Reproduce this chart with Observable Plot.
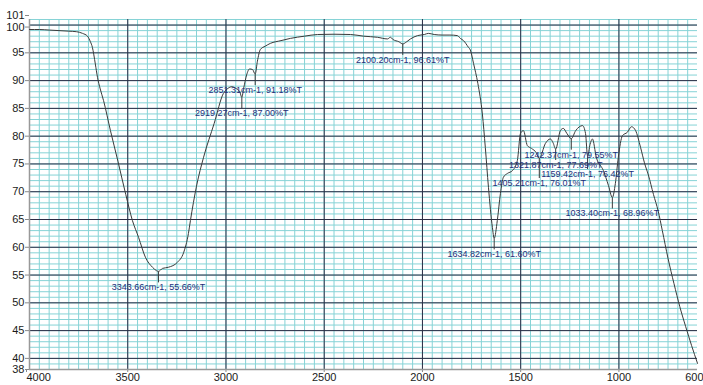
<!DOCTYPE html>
<html><head><meta charset="utf-8">
<script src="https://cdn.jsdelivr.net/npm/d3@7"></script>
<script src="https://cdn.jsdelivr.net/npm/@observablehq/plot@0.6"></script>
<style>body{margin:0;background:#fff}</style>
</head><body><div id="chart"></div>
<script>
// Spectrum (wavenumber cm-1, %T)
const wavenumber = [4000,3950,3900,3850,3800,3760,3730,3705,3690,3680,3665,3654,3640,3623,3588,3550,3510,3476,3445,3410,3374,3354,3343.66,3323,3293,3247,3216,3191,3181,3150,3114,3060,3013,2990,2970,2950,2930,2919.27,2910,2895,2880,2865,2851.31,2840,2825,2800,2774,2720,2672,2600,2534,2450,2366,2300,2229,2178,2163,2150,2120,2100.20,2080,2061,2025,1990,1970,1940,1900,1860,1822,1807,1791,1766,1756,1740,1718,1695,1680,1664,1644,1634.82,1619,1603,1588,1567,1542,1517,1501,1486,1466,1445,1420,1405.21,1374,1349,1335,1321.87,1298,1283,1265,1242.37,1220,1185,1170,1159.42,1147,1135,1115,1079,1053,1033.40,1018,1003,982,957,936,915,890,870,850,824,800,779,750,720,690,660,630,600];
const transmittance = [99.2,99.2,99.1,99.0,98.9,98.8,98.5,98.0,97.0,96.0,93.0,90.6,88.5,86.4,81.0,75.5,69.5,64.8,61.8,58.2,56.4,55.8,55.66,56.2,56.4,57.3,59.0,62.5,64.8,71.0,76.2,82.3,87.7,88.6,88.9,88.6,88.0,87.0,88.6,91.0,92.1,92.0,91.18,93.5,95.6,96.2,96.7,97.2,97.6,98.0,98.3,98.35,98.3,98.0,97.8,97.5,97.8,97.4,97.0,96.61,97.0,97.5,98.1,98.3,98.5,98.3,98.2,98.2,98.1,97.6,97.2,96.0,95.5,93.1,89.5,84.0,78.0,70.8,63.6,61.6,64.8,69.7,72.6,73.3,73.8,75.6,80.5,81.0,78.3,77.8,77.0,76.01,78.7,79.5,78.8,77.69,81.0,81.4,80.5,79.55,81.0,81.9,80.5,76.42,78.5,79.5,76.2,73.8,71.1,68.96,71.5,76.2,80.1,80.7,81.7,81.0,78.0,75.2,73.0,69.5,66.5,63.0,58.0,53.5,49.3,45.7,42.3,39.1];

// Peak picks
const peakWavenumber = [3343.66,2919.27,2851.31,2100.20,1634.82,1405.21,1321.87,1242.37,1159.42,1033.40];
const peakTransmittance = [55.66,87.00,91.18,96.61,61.60,76.01,77.69,79.55,76.42,68.96];

// Axis ticks
const xTicks = [3500,3000,2500,2000,1500,1000];
const xFirstTick = [4000];
const xLastTick = [600];
const yTicks = [38,40,45,50,55,60,65,70,75,80,85,90,95];
const yTopTicks = [100];
const yMaxTick = [101];

const W = 703, H = 385, mt = 19, mb = 16, ml = 29, mr = 6;
const yMin = 38, yMax = 101, xHi = 4000, xLo = 600;

const spectrum = wavenumber.map((w, i) => ({w, t: transmittance[i]}));

// label placement (avoid overlaps), in pixel space derived from the same dimensions
const pxT = (H - mt - mb) / (yMax - yMin);
const pxW = (W - ml - mr) / (xHi - xLo);
const gap = 16, sep = 9, labelW = 80;
const order = d3.range(peakWavenumber.length).sort((a, b) => peakTransmittance[b] - peakTransmittance[a]);
const placed = [];
const peaks = [];
for (const i of order) {
  const w = peakWavenumber[i], t = peakTransmittance[i];
  const px = (xHi - w) * pxW;
  let ly = (yMax - t) * pxT + gap;
  let moved = true;
  while (moved) {
    moved = false;
    for (const p of placed) {
      if (Math.abs(px - p.px) < labelW && Math.abs(ly - p.ly) < sep) { ly = p.ly + sep; moved = true; }
    }
  }
  placed.push({px, ly});
  peaks.push({
    w, t,
    labelT: yMax - ly / pxT,
    tickEndT: yMax - (ly - 5) / pxT,
    label: `${w.toFixed(2)}cm-1, ${t.toFixed(2)}%T`
  });
}

const minorX = d3.range(3950, 600, -50);
const minorY = d3.range(39, 102, 1);
const majorX = [3500,3000,2500,2000,1500,1000];
const majorY = d3.range(40, 101, 5);

const fmt = d => String(d);
const chart = Plot.plot({
  width: W, height: H,
  marginTop: mt, marginBottom: mb, marginLeft: ml, marginRight: mr,
  style: {fontFamily: "'Liberation Sans', Arial, sans-serif", fontSize: "11px", color: "#1a1a1a", background: "#fff"},
  x: {domain: [xHi, xLo], label: null},
  y: {domain: [yMin, yMax], label: null},
  marks: [
    Plot.ruleX(minorX, {stroke: "#86d3d6", strokeWidth: 1}),
    Plot.ruleY(minorY, {stroke: "#86d3d6", strokeWidth: 1}),
    Plot.ruleX(majorX, {stroke: "#2c2c44", strokeWidth: 1}),
    Plot.ruleY(majorY, {stroke: "#2c2c44", strokeWidth: 1}),
    Plot.axisX(xTicks, {tickFormat: fmt, tickSize: 3, tickPadding: 1, fontSize: 11, stroke: "#888"}),
    Plot.axisX(xFirstTick, {tickFormat: fmt, tickSize: 3, tickPadding: 1, fontSize: 11, stroke: "#888", textAnchor: "start", dx: -3}),
    Plot.axisX(xLastTick, {tickFormat: fmt, tickSize: 3, tickPadding: 1, fontSize: 11, stroke: "#888", textAnchor: "end", dx: 6}),
    Plot.axisY(yTicks, {tickFormat: fmt, tickSize: 4, tickPadding: 1, fontSize: 11, stroke: "#888"}),
    Plot.axisY(yTopTicks, {tickFormat: fmt, tickSize: 4, tickPadding: 1, fontSize: 11, stroke: "#888", dy: 2}),
    Plot.axisY(yMaxTick, {tickFormat: fmt, tickSize: 4, tickPadding: 1, fontSize: 11, stroke: "#888", dy: -4}),
    Plot.ruleX([xHi], {stroke: "#999", strokeWidth: 1.5}),
    Plot.ruleY([yMin], {stroke: "#999", strokeWidth: 1.5}),
    Plot.line(spectrum, {x: "w", y: "t", stroke: "#3a3a3a", strokeWidth: 1, curve: "monotone-x"}),
    Plot.link(peaks, {x1: "w", x2: "w", y1: "t", y2: "tickEndT", stroke: "#3a3a3a", strokeWidth: 1}),
    Plot.text(peaks, {x: "w", y: "labelT", text: "label", fill: "#24307a", fontSize: 9, textAnchor: "middle", lineAnchor: "middle"})
  ]
});
document.getElementById("chart").append(chart);
</script>
</body></html>
